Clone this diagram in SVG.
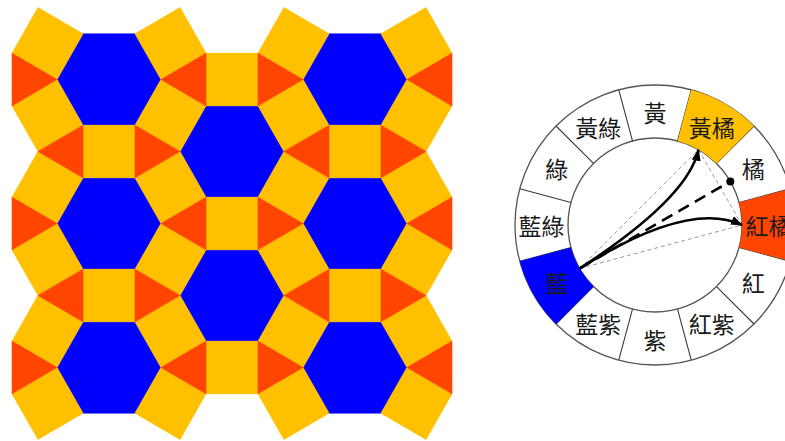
<svg xmlns="http://www.w3.org/2000/svg" xmlns:xlink="http://www.w3.org/1999/xlink" width="785" height="441" viewBox="0 0 785 441">
<style>
.hx{fill:#0000FF;stroke:#0000FF;stroke-width:0.6}
.sq{fill:#FFC000;stroke:#FFC000;stroke-width:0.6}
.tr{fill:#FF4500;stroke:#FF4500;stroke-width:0.6}
.div{stroke:#3a3a3a;stroke-width:1.1;fill:none}
.ring{fill:#fff;stroke:#555;stroke-width:1.3}
.lbl{font-family:"Noto Sans CJK TC","Noto Sans CJK SC",sans-serif;font-size:23px;fill:#1a1a1a;text-anchor:middle;dominant-baseline:central}
.thin{stroke:#9a9a9a;stroke-width:1;stroke-dasharray:4 3;fill:none}
.thick{stroke:#000;stroke-width:2.6;fill:none}
</style>
<defs>
<polygon id="hex" class="hx" points="52,0 26,45.03 -26,45.03 -52,0 -26,-45.03 26,-45.03"/>
<rect id="sq" class="sq" x="-26" y="-26" width="52" height="52"/>
<polygon id="tL" class="tr" points="-15.01,-26 -15.01,26 30.02,0"/>
<polygon id="tR" class="tr" points="15.01,-26 15.01,26 -30.02,0"/>
<marker id="ah" viewBox="0 0 12 9" markerWidth="12" markerHeight="9" refX="11" refY="4.5" orient="auto" markerUnits="userSpaceOnUse">
<path d="M0,0 L12,4.5 L0,9 Z" fill="#000"/>
</marker>
</defs>
<rect width="785" height="441" fill="#fff"/>
<g id="tiling" transform="translate(-1,-3.13) scale(1,1.014)">
<g id="hexagons">
<use href="#hex" transform="translate(110,81.5)"/>
<use href="#hex" transform="translate(110,223.5)"/>
<use href="#hex" transform="translate(110,365.5)"/>
<use href="#hex" transform="translate(233,152.5)"/>
<use href="#hex" transform="translate(233,294.5)"/>
<use href="#hex" transform="translate(356,81.5)"/>
<use href="#hex" transform="translate(356,223.5)"/>
<use href="#hex" transform="translate(356,365.5)"/>
</g>
<g id="squares">
<use href="#sq" transform="translate(110,152.5)"/>
<use href="#sq" transform="translate(110,294.5)"/>
<use href="#sq" transform="translate(233,81.5)"/>
<use href="#sq" transform="translate(233,223.5)"/>
<use href="#sq" transform="translate(233,365.5)"/>
<use href="#sq" transform="translate(356,152.5)"/>
<use href="#sq" transform="translate(356,294.5)"/>
<use href="#sq" transform="translate(48.5,46) rotate(30)"/>
<use href="#sq" transform="translate(171.5,117) rotate(30)"/>
<use href="#sq" transform="translate(48.5,188) rotate(30)"/>
<use href="#sq" transform="translate(171.5,259) rotate(30)"/>
<use href="#sq" transform="translate(48.5,330) rotate(30)"/>
<use href="#sq" transform="translate(171.5,401) rotate(30)"/>
<use href="#sq" transform="translate(294.5,188) rotate(30)"/>
<use href="#sq" transform="translate(294.5,330) rotate(30)"/>
<use href="#sq" transform="translate(294.5,46) rotate(30)"/>
<use href="#sq" transform="translate(417.5,117) rotate(30)"/>
<use href="#sq" transform="translate(417.5,259) rotate(30)"/>
<use href="#sq" transform="translate(417.5,401) rotate(30)"/>
<use href="#sq" transform="translate(171.5,46) rotate(-30)"/>
<use href="#sq" transform="translate(48.5,117) rotate(-30)"/>
<use href="#sq" transform="translate(48.5,259) rotate(-30)"/>
<use href="#sq" transform="translate(171.5,188) rotate(-30)"/>
<use href="#sq" transform="translate(171.5,330) rotate(-30)"/>
<use href="#sq" transform="translate(48.5,401) rotate(-30)"/>
<use href="#sq" transform="translate(294.5,117) rotate(-30)"/>
<use href="#sq" transform="translate(294.5,259) rotate(-30)"/>
<use href="#sq" transform="translate(417.5,46) rotate(-30)"/>
<use href="#sq" transform="translate(417.5,188) rotate(-30)"/>
<use href="#sq" transform="translate(417.5,330) rotate(-30)"/>
<use href="#sq" transform="translate(294.5,401) rotate(-30)"/>
</g>
<g id="triangles">
<use href="#tL" transform="translate(28,81.5)"/>
<use href="#tR" transform="translate(192,81.5)"/>
<use href="#tL" transform="translate(274,81.5)"/>
<use href="#tR" transform="translate(438,81.5)"/>
<use href="#tR" transform="translate(69,152.5)"/>
<use href="#tL" transform="translate(151,152.5)"/>
<use href="#tR" transform="translate(315,152.5)"/>
<use href="#tL" transform="translate(397,152.5)"/>
<use href="#tL" transform="translate(28,223.5)"/>
<use href="#tR" transform="translate(192,223.5)"/>
<use href="#tL" transform="translate(274,223.5)"/>
<use href="#tR" transform="translate(438,223.5)"/>
<use href="#tR" transform="translate(69,294.5)"/>
<use href="#tL" transform="translate(151,294.5)"/>
<use href="#tR" transform="translate(315,294.5)"/>
<use href="#tL" transform="translate(397,294.5)"/>
<use href="#tL" transform="translate(28,365.5)"/>
<use href="#tR" transform="translate(192,365.5)"/>
<use href="#tL" transform="translate(274,365.5)"/>
<use href="#tR" transform="translate(438,365.5)"/>
</g>
</g>
<g id="wheel">
<circle class="ring" cx="655" cy="225" r="140"/>
<circle class="ring" cx="655" cy="225" r="87"/>
<g id="dividers" class="div">
<line x1="677.52" y1="140.97" x2="691.23" y2="89.77"/>
<line x1="716.52" y1="163.48" x2="753.99" y2="126.01"/>
<line x1="739.03" y1="202.48" x2="790.23" y2="188.77"/>
<line x1="739.03" y1="247.52" x2="790.23" y2="261.23"/>
<line x1="716.52" y1="286.52" x2="753.99" y2="323.99"/>
<line x1="677.52" y1="309.03" x2="691.23" y2="360.23"/>
<line x1="632.48" y1="309.03" x2="618.77" y2="360.23"/>
<line x1="593.48" y1="286.52" x2="556.01" y2="323.99"/>
<line x1="570.97" y1="247.52" x2="519.77" y2="261.23"/>
<line x1="570.97" y1="202.48" x2="519.77" y2="188.77"/>
<line x1="593.48" y1="163.48" x2="556.01" y2="126.01"/>
<line x1="632.48" y1="140.97" x2="618.77" y2="89.77"/>
</g>
</g>
<g id="seg-yellow"><text class="lbl" x="655" y="111.5">黃</text></g>
<g id="seg-yellow-orange"><path d="M691.23,89.77 A140,140 0 0 1 753.99,126.01 L716.52,163.48 A87,87 0 0 0 677.52,140.97 Z" fill="#FFC000"/><text class="lbl" x="711.75" y="126.7">黃橘</text></g>
<g id="seg-orange"><text class="lbl" x="753.3" y="168.25">橘</text></g>
<g id="seg-red-orange"><path d="M790.23,188.77 A140,140 0 0 1 790.23,261.23 L739.03,247.52 A87,87 0 0 0 739.03,202.48 Z" fill="#FF4500"/><text class="lbl" x="768.5" y="225">紅橘</text></g>
<g id="seg-red"><text class="lbl" x="753.3" y="281.75">紅</text></g>
<g id="seg-red-violet"><text class="lbl" x="711.75" y="323.3">紅紫</text></g>
<g id="seg-violet"><text class="lbl" x="655" y="338.5">紫</text></g>
<g id="seg-blue-violet"><text class="lbl" x="598.25" y="323.3">藍紫</text></g>
<g id="seg-blue"><path d="M556.01,323.99 A140,140 0 0 1 519.77,261.23 L570.97,247.52 A87,87 0 0 0 593.48,286.52 Z" fill="#0000FF"/><text class="lbl" x="556.7" y="281.75">藍</text></g>
<g id="seg-blue-green"><text class="lbl" x="541.5" y="225">藍綠</text></g>
<g id="seg-green"><text class="lbl" x="556.7" y="168.25">綠</text></g>
<g id="seg-yellow-green"><text class="lbl" x="598.25" y="126.7">黃綠</text></g>
<g id="connectors">
<line class="thin" x1="579.7" y1="268.5" x2="698.5" y2="149.7"/>
<line class="thin" x1="698.5" y1="149.7" x2="742" y2="225"/>
<line class="thin" x1="579.7" y1="268.5" x2="742" y2="225"/>
<line class="thick" x1="579.7" y1="268.5" x2="728" y2="182.8" stroke-dasharray="12 7"/>
<circle cx="730.3" cy="181.5" r="4" fill="#000"/>
<path class="thick" d="M579.7,268.5 Q688,198 698.5,149.7" marker-end="url(#ah)"/>
<path class="thick" d="M579.7,268.5 Q688,200 742,225" marker-end="url(#ah)"/>
</g>
</svg>
